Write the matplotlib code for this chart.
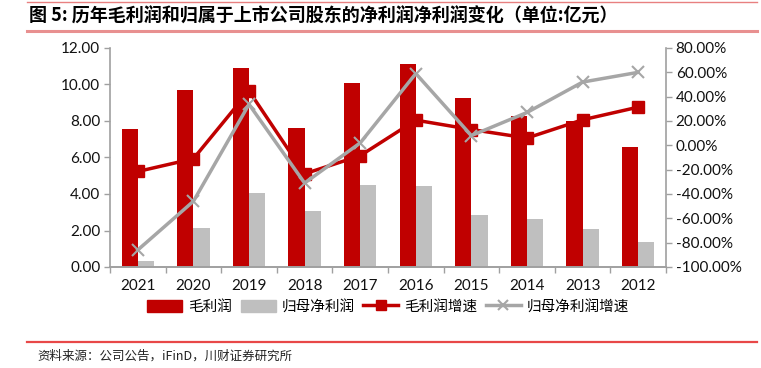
import numpy as np
import matplotlib
matplotlib.use('Agg')
import matplotlib.pyplot as plt
from matplotlib.lines import Line2D
from matplotlib.patches import Patch
from matplotlib.ticker import FuncFormatter

plt.rcParams['font.family'] = ['Noto Sans CJK SC', 'DejaVu Sans']

# data (亿元 and %)
years = ['2021', '2020', '2019', '2018', '2017', '2016', '2015', '2014', '2013', '2012']
gross_profit = [7.58, 9.68, 10.90, 7.63, 10.10, 11.10, 9.28, 8.29, 8.00, 6.56]
net_profit = [0.33, 2.15, 4.04, 3.07, 4.49, 4.45, 2.85, 2.65, 2.08, 1.39]
gross_growth = [-21.5, -11.0, 44.7, -23.4, -8.5, 20.7, 13.0, 6.0, 21.0, 31.4]
net_growth = [-86.0, -46.0, 33.7, -31.0, 2.0, 59.0, 8.0, 27.0, 52.0, 60.0]

RED = '#C00000'
GREY_BAR = '#BFBFBF'
GREY_LINE = '#A6A6A6'
AXIS = '#A0A0A0'

fig = plt.figure(figsize=(7.61, 3.68), dpi=100)

# decorative rules and titles
fig.add_artist(Line2D([27/761, 757/761], [1 - 1.5/368, 1 - 1.5/368], color='#E88080', lw=1.0))
fig.add_artist(Line2D([27/761, 757/761], [1 - 31/368, 1 - 31/368], color='#E89090', lw=2.2))
fig.add_artist(Line2D([27/761, 757/761], [1 - 342/368, 1 - 342/368], color='#E84848', lw=1.6))
fig.text(29/761, 1 - 16/368, '图 5: 历年毛利润和归属于上市公司股东的净利润净利润变化（单位:亿元）',
         fontsize=13, fontweight='bold', va='center', ha='left')
fig.text(37/761, 1 - 356/368, '资料来源：公司公告，iFinD，川财证券研究所',
         fontsize=9, va='center', ha='left', color='#222222')

ax = fig.add_axes([110/761, 1 - 267/368, 556/761, 219/368])
ax2 = ax.twinx()

x = np.arange(len(years))
w = 0.29
ax.bar(x - w/2, gross_profit, w, color=RED, zorder=2)
ax.bar(x + w/2, net_profit, w, color=GREY_BAR, zorder=2)

ax2.plot(x, gross_growth, color=RED, lw=2.5, marker='s', ms=8, zorder=3)
ax2.plot(x, net_growth, color=GREY_LINE, lw=2.5, marker='x', ms=8, mew=1.5, zorder=4)

ax.set_xlim(-0.5, len(years) - 0.5)
ax.set_ylim(0, 12)
ax.set_yticks(np.arange(0, 12.01, 2))
ax2.set_ylim(-100, 80)
ax2.set_yticks(np.arange(-100, 80.1, 20))

ax.yaxis.set_major_formatter(FuncFormatter(lambda v, p: f'{v:.2f}'))
ax2.yaxis.set_major_formatter(FuncFormatter(lambda v, p: f'{v:.2f}%'))

ax.set_xticks(x)
ax.set_xticklabels(years)
ax.set_xticks(np.arange(-0.5, len(years), 1), minor=True)
ax.tick_params(axis='x', which='major', length=0, pad=9)
ax.tick_params(axis='x', which='minor', length=4, color=AXIS, width=1)

for a in (ax, ax2):
    a.spines['top'].set_visible(False)
    for s in ('left', 'right', 'bottom'):
        a.spines[s].set_color(AXIS)
        a.spines[s].set_linewidth(1.2)
    a.tick_params(axis='y', length=4, color=AXIS, width=1, pad=3)

ax2.spines['left'].set_visible(False)
ax.spines['right'].set_visible(False)

for lab in ax.get_xticklabels() + ax.get_yticklabels() + ax2.get_yticklabels():
    lab.set_fontfamily('Lato')
    lab.set_fontsize(11)
    lab.set_color('#111111')

handles = [
    Patch(color=RED),
    Patch(color=GREY_BAR),
    Line2D([], [], color=RED, lw=2.5, marker='s', ms=7),
    Line2D([], [], color=GREY_LINE, lw=2.5, marker='x', ms=7, mew=1.5),
]
labels = ['毛利润', '归母净利润', '毛利润增速', '归母净利润增速']
fig.legend(handles, labels, loc='center', bbox_to_anchor=(0.51, 1 - 307/368), ncol=4,
           frameon=False, fontsize=10.5, handlelength=2.4, handleheight=0.9,
           columnspacing=0.6, handletextpad=0.4)

fig.savefig('out.png', dpi=100)
